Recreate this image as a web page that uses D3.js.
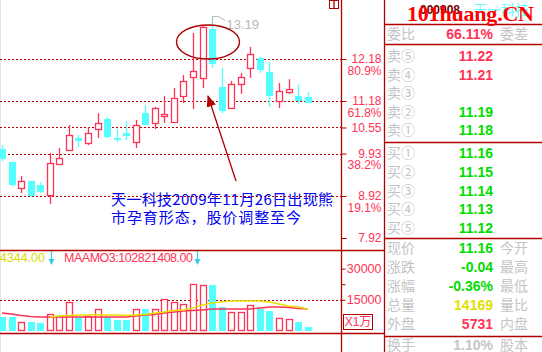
<!DOCTYPE html>
<html><head><meta charset="utf-8">
<script src="https://cdn.jsdelivr.net/npm/d3@7"></script>
<style>body{margin:0;background:#fff;overflow:hidden}svg{display:block}</style>
</head><body>
<script>
// ---------- data ----------
const opens  = [10.04,9.73,9.11,9.28,9.18,8.94,9.68,10.01,10.30,10.18,10.51,10.75,10.30,10.42,10.20,10.89,10.66,10.82,10.68,11.30,11.75,11.73,12.89,11.51,11.01,11.58,11.97,12.20,11.87,11.18,11.39,11.30,11.28];
const highs  = [10.13,9.73,9.39,9.28,9.25,9.94,10.06,10.61,10.37,10.56,10.89,10.80,10.51,10.70,10.73,11.08,11.04,11.30,11.49,11.80,12.80,12.97,13.19,11.97,11.66,11.85,12.47,12.23,12.11,11.61,11.70,11.58,11.39];
const lows   = [9.75,9.13,8.99,8.89,8.99,8.73,9.68,10.01,10.08,10.13,10.30,10.30,10.20,10.25,10.06,10.61,10.51,10.66,10.68,11.13,10.99,11.49,11.97,10.89,11.01,11.35,11.73,11.85,11.04,11.01,11.35,11.11,11.13];
const closes = [9.80,9.18,9.28,8.92,9.01,9.70,9.82,10.37,10.23,10.42,10.66,10.32,10.25,10.35,10.61,10.61,11.01,10.87,11.25,11.66,11.89,12.94,12.06,10.94,11.58,11.75,12.30,11.92,11.30,11.42,11.47,11.18,11.14];
const volumes = [6730,6730,4330,4330,3850,8170,7210,13940,6730,7210,10580,6730,5290,5290,10580,10580,10580,15390,13940,12980,22600,22120,22120,11540,9140,9140,12500,10580,9620,6250,5770,4330,1920];
const volLineRed = [8650,8170,7450,6970,6730,6730,6730,6730,6730,6730,6730,6730,6730,6730,7210,7690,7930,8650,9140,9620,9860,10100,10580,10580,10580,10580,10580,11060,11540,11540,11300,10820,10580];
const volLineYellow = [null,null,null,null,null,6730,7210,7450,7690,7690,7930,7690,7690,7450,7690,7930,8650,9140,9860,10100,11060,12500,13460,13940,14420,14420,14420,14420,13940,12980,12020,11540,10580];
const priceTicks = [12.18,11.18,10.55,9.93,8.92,7.92];
const gridPrices = [12.18,11.18,10.55,9.93,8.92];
const fibPrices = [12.18,11.18,9.93,8.92];
const fibLabels = ["80.9%","61.8%","38.2%","19.1%"];
const volTicks = [30000,22500,15000];
const volGrid = [15000];
const maxLabel = "13.19";
const note = ["天一科技2009年11月26日出现熊","市孕育形态，股价调整至今"];
const volHeaderA = "54344.00";
const volHeaderB = "MAAMO3:102821408.00";
const bookLabels = ["卖⑤","卖④","卖③","卖②","卖①","买①","买②","买③","买④","买⑤"];
const bookPrices = ["11.22","11.21","","11.19","11.18","11.16","11.15","11.14","11.13","11.12"];
const bookColors = ["r","r","g","g","g","g","g","g","g","g"];
const quoteLabels = ["现价","涨跌","涨幅","总量","外盘","换手"];
const quoteValues = ["11.16","-0.04","-0.36%","14169","5731","1.10%"];
const quoteColors = ["g","g","g","y","r","gray"];
const quoteRight = ["今开","最高","最低","量比","内盘","股本"];

// ---------- drawing ----------
const W = 542, H = 352;
const RED = "#ff3355", CYAN = "#55ffff", DARK = "#b00000", GREEN = "#00dd00", YEL = "#e0e000", GRAY = "#c4c4c4";
const colorOf = {r: RED, g: GREEN, y: YEL, gray: GRAY};
const svg = d3.select("body").append("svg").attr("width", W).attr("height", H)
  .style("font-family", "'Liberation Sans', Arial, sans-serif");
svg.append("rect").attr("width", W).attr("height", H).attr("fill", "#fff");
svg.append("line").attr("x1", 0.5).attr("x2", 0.5).attr("y1", 0).attr("y2", H).attr("stroke", "#e4e4e4");

const n = opens.length;
const x = d3.scaleLinear().domain([0, n - 1]).range([2, 307.6]);
const y = d3.scaleLinear().domain([7.92, 12.18]).range([238, 59]);
const vy = d3.scaleLinear().domain([0, 30000]).range([331, 268.6]);

// grid
svg.append("g").selectAll("line").data(gridPrices).join("line")
  .attr("x1", 0).attr("x2", 341).attr("y1", d => Math.round(y(d)) + 0.5).attr("y2", d => Math.round(y(d)) + 0.5)
  .attr("stroke", DARK).attr("stroke-dasharray", "2,2");
svg.append("g").selectAll("line").data(volGrid).join("line")
  .attr("x1", 0).attr("x2", 341).attr("y1", d => Math.round(vy(d)) + 0.5).attr("y2", d => Math.round(vy(d)) + 0.5)
  .attr("stroke", DARK).attr("stroke-dasharray", "2,2");

// candles
const cg = svg.append("g");
for (let i = 0; i < n; i++) {
  const cx = Math.round(x(i)) + 0.5;
  const o = opens[i], c = closes[i], h = highs[i], l = lows[i];
  const top = Math.round(y(Math.max(o, c))), bot = Math.round(y(Math.min(o, c)));
  if (c >= o) {
    cg.append("line").attr("x1", cx).attr("x2", cx).attr("y1", y(h)).attr("y2", top).attr("stroke", RED).attr("stroke-width", 1.3);
    cg.append("line").attr("x1", cx).attr("x2", cx).attr("y1", bot).attr("y2", y(l)).attr("stroke", RED).attr("stroke-width", 1.3);
    cg.append("rect").attr("x", cx - 3).attr("y", top + 0.5).attr("width", 6).attr("height", Math.max(1, bot - top))
      .attr("fill", "#fff").attr("stroke", RED).attr("stroke-width", 1.3);
  } else {
    cg.append("line").attr("x1", cx).attr("x2", cx).attr("y1", y(h)).attr("y2", y(l)).attr("stroke", CYAN).attr("stroke-width", 1.3);
    cg.append("rect").attr("x", cx - 3.5).attr("y", top).attr("width", 7).attr("height", Math.max(2, bot - top)).attr("fill", CYAN);
  }
}

// max marker
const iMax = d3.maxIndex(highs);
const mx = Math.round(x(iMax)) + 0.5, my = y(highs[iMax]);
svg.append("path").attr("d", `M${mx},${my + 8}V${my}H${mx + 6}L${mx + 13},${my + 4}`).attr("fill", "none").attr("stroke", "#b8b8b8");
svg.append("text").attr("x", mx + 14).attr("y", my + 12).attr("fill", "#b8b8b8").attr("font-size", 13).text(maxLabel);

// ellipse + arrow annotation
svg.append("ellipse").attr("cx", 208).attr("cy", 42).attr("rx", 31.5).attr("ry", 17)
  .attr("fill", "none").attr("stroke", DARK).attr("stroke-width", 1.4);
svg.append("defs").append("marker").attr("id", "ah").attr("viewBox", "0 0 10 10").attr("refX", 9).attr("refY", 5)
  .attr("markerWidth", 9).attr("markerHeight", 9).attr("orient", "auto-start-reverse")
  .append("path").attr("d", "M0,1L10,5L0,9z").attr("fill", DARK);
svg.append("line").attr("x1", 236).attr("y1", 181).attr("x2", 208).attr("y2", 96)
  .attr("stroke", DARK).attr("stroke-width", 1.3).attr("marker-end", "url(#ah)");
svg.append("g").selectAll("text").data(note).join("text")
  .attr("x", 111).attr("y", (d, i) => 205 + i * 18).attr("fill", "#0000ee")
  .attr("font-family", "'Noto Sans CJK SC', sans-serif").attr("font-size", 15).attr("textLength", (d, i) => i === 0 ? 222 : 190)
  .text(d => d);

// price axis
const ax = svg.append("g").attr("transform", "translate(341.5,0)")
  .call(d3.axisRight(y).tickValues(priceTicks).tickSize(5).tickSizeOuter(0).tickFormat(d3.format(".2f")));
ax.select(".domain").remove();
ax.selectAll("line").attr("stroke", DARK);
ax.selectAll("text").attr("fill", RED).attr("font-size", 12).attr("text-anchor", "end").attr("x", 40)
  .attr("font-family", "'Liberation Sans', Arial, sans-serif");
svg.append("g").selectAll("text").data(fibPrices).join("text")
  .attr("x", 381.5).attr("y", d => y(d) + 12).attr("dy", "0.32em").attr("text-anchor", "end")
  .attr("fill", RED).attr("font-size", 12).text((d, i) => fibLabels[i]);

// volume bars
const vg = svg.append("g");
for (let i = 0; i < n; i++) {
  const cx = Math.round(x(i)) + 0.5;
  const t = Math.round(vy(volumes[i]));
  if (closes[i] >= opens[i]) {
    vg.append("rect").attr("x", cx - 3).attr("y", t + 0.5).attr("width", 6).attr("height", 331 - t - 1)
      .attr("fill", "#fff").attr("stroke", RED).attr("stroke-width", 1.3);
  } else {
    vg.append("rect").attr("x", cx - 3.5).attr("y", t).attr("width", 7).attr("height", 331 - t).attr("fill", CYAN);
  }
}
const ln = arr => d3.line().defined(d => d != null).x((d, i) => x(i)).y(d => vy(d))(arr);
svg.append("path").attr("d", ln(volLineRed)).attr("fill", "none").attr("stroke", RED).attr("stroke-width", 1.3);
svg.append("path").attr("d", ln(volLineYellow)).attr("fill", "none").attr("stroke", "#e8e000").attr("stroke-width", 1.3);

// volume axis
const vax = svg.append("g").attr("transform", "translate(341.5,0)")
  .call(d3.axisRight(vy).tickValues(volTicks).tickSize(4).tickSizeOuter(0).tickFormat(d => d === 22500 ? "" : d));
vax.select(".domain").remove();
vax.selectAll("line").attr("stroke", DARK);
vax.selectAll("text").attr("fill", RED).attr("font-size", 12.5).attr("text-anchor", "end").attr("x", 40)
  .attr("font-family", "'Liberation Sans', Arial, sans-serif");
svg.append("rect").attr("x", 343.5).attr("y", 314.5).attr("width", 29).attr("height", 15).attr("fill", "none").attr("stroke", DARK);
svg.append("text").attr("x", 358).attr("y", 326).attr("text-anchor", "middle").attr("fill", RED).attr("font-size", 12)
  .attr("font-family", "'Liberation Sans','Noto Sans CJK SC',sans-serif").text("X1万");

// volume header
svg.append("text").attr("x", 45).attr("y", 262).attr("text-anchor", "end").attr("fill", "#d8d800").attr("font-size", 12.5).text(volHeaderA);
svg.append("text").attr("x", 64).attr("y", 262).attr("fill", RED).attr("font-size", 12.5).attr("textLength", 129).text(volHeaderB);
[51, 197].forEach(ax0 => {
  svg.append("line").attr("x1", ax0 + 0.5).attr("x2", ax0 + 0.5).attr("y1", 251).attr("y2", 262).attr("stroke", "#33ccee").attr("stroke-width", 1.2);
  svg.append("path").attr("d", `M${ax0 - 2.5},${259}L${ax0 + 0.5},${265}L${ax0 + 3.5},${259}z`).attr("fill", "#33ccee");
});

// frame lines
const fl = (x1, y1, x2, y2) => svg.append("line").attr("x1", x1).attr("y1", y1).attr("x2", x2).attr("y2", y2).attr("stroke", DARK).attr("stroke-width", 1.3);
fl(341.5, 0, 341.5, H);
fl(384.5, 0, 384.5, H);
fl(0, 250.5, 384.5, 250.5);
fl(0, 333.5, 384.5, 333.5);
[24.5, 44.5, 142.5, 238.5, 336.5].forEach(yy => fl(384.5, yy, W, yy));
svg.append("rect").attr("x", 329.5).attr("y", 0.5).attr("width", 9).attr("height", 8).attr("fill", "none").attr("stroke", DARK);
fl(334, 0.5, 334, 8.5);

// title + watermark
svg.append("text").attr("x", 420).attr("y", 14).attr("fill", "#700000").attr("font-size", 12).attr("font-weight", "bold").text("000908");
svg.append("text").attr("x", 473).attr("y", 15).attr("fill", "#66ffff").attr("font-size", 14)
  .attr("font-family", "'Noto Sans CJK SC',sans-serif").text("天一科技");
svg.append("text").attr("x", 407).attr("y", 21).attr("fill", "#ff0000").attr("font-size", 22).attr("font-weight", "bold")
  .attr("font-family", "'Liberation Serif','Times New Roman',serif").attr("textLength", 127).text("101huang.CN");

// order book
const cjk = "'Noto Sans CJK SC', sans-serif";
const row = (label, val, col, right, yy) => {
  svg.append("text").attr("x", 387).attr("y", yy).attr("dy", "0.36em").attr("fill", GRAY).attr("font-size", 14).attr("font-family", cjk).text(label);
  if (val) svg.append("text").attr("x", 493).attr("y", yy).attr("dy", "0.36em").attr("text-anchor", "end").attr("fill", col)
    .attr("font-size", 14).attr("font-weight", "bold").text(val);
  if (right) svg.append("text").attr("x", 500).attr("y", yy).attr("dy", "0.36em").attr("fill", GRAY).attr("font-size", 14).attr("font-family", cjk).text(right);
};
row("委比", "66.11%", RED, "委差", 34);
bookLabels.forEach((l, i) => {
  const yy = i < 5 ? 56 + i * 18.5 : 153 + (i - 5) * 18.75;
  row(l, bookPrices[i], colorOf[bookColors[i]], null, yy);
});
quoteLabels.forEach((l, i) => {
  const yy = i < 5 ? 248 + i * 19 : 345;
  row(l, quoteValues[i], colorOf[quoteColors[i]], quoteRight[i], yy);
});
</script>
</body></html>
